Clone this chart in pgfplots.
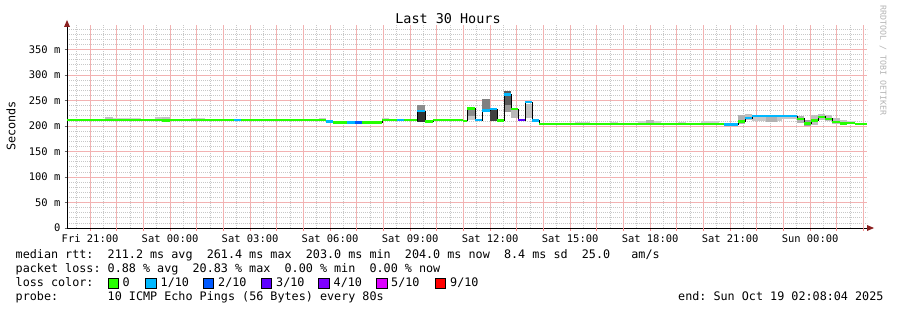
\documentclass[border=0pt]{standalone}
\usepackage{fontspec}
\setmainfont{DejaVu Sans Mono}
\usepackage{pgfplots}
\pgfplotsset{compat=1.18}
\definecolor{l0}{HTML}{26FF00}
\definecolor{l1}{HTML}{00B8FF}
\definecolor{l2}{HTML}{0059FF}
\definecolor{l3}{HTML}{5E00FF}
\definecolor{l4}{HTML}{7E00FF}
\definecolor{l5}{HTML}{DD00FF}
\definecolor{l9}{HTML}{FF0000}
\definecolor{majgrid}{HTML}{F2B2B2}
\definecolor{mingrid}{HTML}{C8C8C8}
\definecolor{arrowred}{HTML}{8B2020}
\definecolor{wm}{HTML}{B4B4B4}
\newcommand{\smoke}[5]{\addplot[fill=#1,draw=none,forget plot] coordinates {(#2,#4) (#3,#4) (#3,#5) (#2,#5)};}
\begin{document}
\begin{tikzpicture}[x=1bp,y=1bp]
\begin{axis}[
  at={(67bp,82bp)}, anchor=south west,
  scale only axis, width=800bp, height=203bp,
  xmin=-0.8656, xmax=29.1344, ymin=0, ymax=398,
  axis x line*=bottom, axis y line*=left,
  axis line style={black, line width=0.9bp},
  xtick={0,3,...,27},
  xticklabels={Fri 21:00,Sat 00:00,Sat 03:00,Sat 06:00,Sat 09:00,Sat 12:00,Sat 15:00,Sat 18:00,Sat 21:00,Sun 00:00},
  extra x ticks={1,2,4,5,7,8,10,11,13,14,16,17,19,20,22,23,25,26,28,29},
  extra x tick labels={},
  extra x tick style={grid=major, major grid style={draw=majgrid, line width=0.9bp}},
  minor xtick={-0.5,0.5,1.5,2.5,3.5,4.5,5.5,6.5,7.5,8.5,9.5,10.5,11.5,12.5,13.5,14.5,15.5,16.5,17.5,18.5,19.5,20.5,21.5,22.5,23.5,24.5,25.5,26.5,27.5,28.5},
  ytick={0,50,...,350},
  yticklabels={0,50 m,100 m,150 m,200 m,250 m,300 m,350 m},
  minor ytick={10,20,30,40,60,70,80,90,110,120,130,140,160,170,180,190,210,220,230,240,260,270,280,290,310,320,330,340,360,370,380,390},
  grid=both,
  major grid style={draw=majgrid, line width=0.9bp},
  minor grid style={draw=mingrid, line width=0.7bp, dash pattern=on 1bp off 1bp},
  tick align=outside,
  major tick length=2.5bp, minor tick length=0bp,
  x tick style={draw=majgrid!80!red, line width=0.7bp},
  y tick style={draw=black!60, line width=0.6bp},
  ticklabel style={font=\fontsize{10.5}{12}\selectfont, inner sep=0pt},
  xticklabel style={yshift=-4bp},
  yticklabel style={xshift=-4bp},
  clip=false,
]
% smoke (ping distribution)
\smoke{black!25}{0.5625}{0.8625}{211.5}{218}
\smoke{black!18}{0.8625}{1.9125}{211.5}{216.5}
\smoke{black!22}{2.4375}{2.70}{211.5}{217}
\smoke{black!25}{2.70}{3.00}{210.5}{218}
\smoke{black!18}{3.7875}{4.3125}{211.5}{216}
\smoke{black!20}{8.5875}{8.85}{211.5}{216}
\smoke{black!20}{10.95}{11.2125}{211.5}{216}
\smoke{black!45}{12.2625}{12.5625}{208}{241}
\smoke{black!80}{12.2625}{12.5625}{208}{228}
\smoke{black!22}{14.1375}{14.4375}{212}{234}
\smoke{black!45}{14.1375}{14.4375}{220}{232}
\smoke{black!50}{14.70}{15.00}{230}{253}
\smoke{black!30}{15.00}{15.2625}{232}{236}
\smoke{black!75}{15.00}{15.2625}{210}{232}
\smoke{black!40}{15.525}{15.7875}{228}{268}
\smoke{black!65}{15.525}{15.7875}{241}{268}
\smoke{black!28}{15.7875}{16.05}{215}{231}
\smoke{black!25}{16.3125}{16.575}{215}{244}
\smoke{black!18}{18.1875}{18.75}{204}{207}
\smoke{black!18}{19.50}{19.80}{204}{208}
\smoke{black!18}{20.55}{21.40}{204}{210}
\smoke{black!28}{20.85}{21.15}{204}{212}
\smoke{black!18}{22.05}{22.35}{204}{207}
\smoke{black!18}{22.90}{23.60}{204}{209}
\smoke{black!30}{24.30}{24.5625}{203}{222}
\smoke{black!25}{24.5625}{24.825}{212}{223}
\smoke{black!22}{24.825}{25.95}{210}{220}
\smoke{black!30}{25.35}{25.75}{208}{218}
\smoke{black!22}{25.95}{26.5125}{214}{220}
\smoke{black!30}{26.5125}{26.775}{206}{220}
\smoke{black!38}{26.775}{27.0375}{200}{212}
\smoke{black!25}{27.0375}{27.30}{202}{222}
\smoke{black!25}{27.30}{27.5625}{212}{224}
\smoke{black!25}{27.5625}{27.825}{210}{221}
\smoke{black!25}{27.825}{28.125}{204}{216}
\smoke{black!22}{28.125}{28.3875}{202}{212}
\smoke{black!18}{28.3875}{28.6875}{205}{210}
% median rtt, step line
\addplot[black, line width=0.8bp, const plot mark left, forget plot] coordinates {
(-0.8656,211.5) (2.70,210.5) (3.00,211.5) (8.85,209) (9.1125,206.5) (10.95,211.5)
(12.2625,229) (12.5625,208.5) (12.8625,211.5) (13.9875,210) (14.1375,234.5)
(14.4375,211.5) (14.70,230) (15.00,233) (15.2625,210.5) (15.525,262) (15.7875,233)
(16.05,211.5) (16.3125,246.5) (16.575,210.5) (16.8375,204) (23.775,203) (24.30,208.5)
(24.5625,215.5) (24.825,219.5) (25.95,219) (26.5125,214) (26.775,205) (27.0375,210.5)
(27.30,218) (27.5625,214) (27.825,208) (28.125,205) (28.3875,206) (28.6875,204) (29.1344,204)};
% loss 0
\addplot[l0, line width=2.4bp, unbounded coords=jump, forget plot] coordinates {
(-0.8656,211.5) (2.70,211.5) (2.70,nan) (2.70,210.5) (3.00,210.5) (3.00,nan)
(3.00,211.5) (5.40,211.5) (5.40,nan) (5.6625,211.5) (8.85,211.5) (8.85,nan)
(9.1125,206.5) (9.6375,206.5) (9.6375,nan) (10.20,206.5) (10.95,206.5) (10.95,nan)
(10.95,211.5) (11.5125,211.5) (11.5125,nan) (11.775,211.5) (12.2625,211.5) (12.2625,nan)
(12.5625,208.5) (12.8625,208.5) (12.8625,nan) (12.8625,211.5) (13.9875,211.5) (13.9875,nan)
(13.9875,210) (14.1375,210) (14.1375,nan) (14.1375,234.5) (14.4375,234.5) (14.4375,nan)
(15.2625,210.5) (15.525,210.5) (15.525,nan) (15.7875,233) (16.05,233) (16.05,nan)
(16.8375,204) (23.775,204) (23.775,nan) (24.30,208.5) (24.5625,208.5) (24.5625,nan)
(26.5125,214) (26.775,214) (26.775,nan) (26.775,205) (27.0375,205) (27.0375,nan)
(27.0375,210.5) (27.30,210.5) (27.30,nan) (27.30,218) (27.5625,218) (27.5625,nan)
(27.5625,214) (27.825,214) (27.825,nan) (27.825,208) (28.125,208) (28.125,nan)
(28.125,205) (28.3875,205) (28.3875,nan) (28.3875,206) (28.6875,206) (28.6875,nan)
(28.6875,204) (29.1344,204)};
% loss 1/10
\addplot[l1, line width=2.4bp, unbounded coords=jump, forget plot] coordinates {
(5.40,211.5) (5.6625,211.5) (5.6625,nan) (8.85,209) (9.1125,209) (9.1125,nan)
(9.6375,206.5) (9.9375,206.5) (9.9375,nan) (11.5125,211.5) (11.775,211.5) (11.775,nan)
(12.2625,229) (12.5625,229) (12.5625,nan) (14.4375,211.5) (14.70,211.5) (14.70,nan)
(14.70,230) (15.00,230) (15.00,nan) (15.00,233) (15.2625,233) (15.2625,nan)
(15.525,262) (15.7875,262) (15.7875,nan) (16.3125,246.5) (16.575,246.5) (16.575,nan)
(16.575,210.5) (16.8375,210.5) (16.8375,nan) (23.775,203) (24.30,203) (24.30,nan)
(24.5625,215.5) (24.825,215.5) (24.825,nan) (24.825,219.5) (25.95,219.5) (25.95,nan)
(25.95,219) (26.5125,219)};
% loss 2/10
\addplot[l2, line width=2.4bp, forget plot] coordinates {(9.9375,206.5) (10.20,206.5)};
% loss 3/10
\addplot[l3, line width=2.4bp, forget plot] coordinates {(16.05,211.5) (16.3125,211.5)};
\end{axis}
% axis arrows
\fill[arrowred] (67,290) -- (64,283) -- (70,283) -- cycle;
\fill[arrowred] (874,82) -- (867,85) -- (867,79) -- cycle;
% title and labels
\node[font=\fontsize{13.5}{15}\selectfont, anchor=base] at (448,287) {Last 30 Hours};
\node[font=\fontsize{11.8}{13}\selectfont, rotate=90] at (11,184) {Seconds};
\node[font=\fontsize{8.3}{9}\selectfont, text=wm, rotate=-90, anchor=west] at (883,308) {RRDTOOL / TOBI OETIKER};
% legend text
\begin{scope}[every node/.style={font=\fontsize{11.8}{13}\selectfont, anchor=base west, inner sep=0pt}]
\node at (15.5,52) {median~rtt:~~211.2~ms~avg~~261.4~ms~max~~203.0~ms~min~~204.0~ms~now~~8.4~ms~sd~~25.0~~~am/s};
\node at (15.5,38) {packet~loss:~0.88~\%~avg~~20.83~\%~max~~0.00~\%~min~~0.00~\%~now};
\node at (15.5,24) {loss~color:};
\node at (15.5,10) {probe:~~~~~~~10~ICMP~Echo~Pings~(56~Bytes)~every~80s};
\node at (678,10) {end:~Sun~Oct~19~02:08:04~2025};
\node at (122.5,24) {0};
\node at (160.5,24) {1/10};
\node at (218,24) {2/10};
\node at (276,24) {3/10};
\node at (333.5,24) {4/10};
\node at (391,24) {5/10};
\node at (450,24) {9/10};
\end{scope}
\foreach \xx/\cc in {108.3/l0,145.7/l1,203.3/l2,261/l3,318.7/l4,376.7/l5,435/l9}{
  \filldraw[fill=\cc, draw=black, line width=0.8bp] (\xx,21.3) rectangle ++(10.5,10.5);
}
\pgfresetboundingbox
\useasboundingbox (0,0) rectangle (897,310);
\end{tikzpicture}
\end{document}
